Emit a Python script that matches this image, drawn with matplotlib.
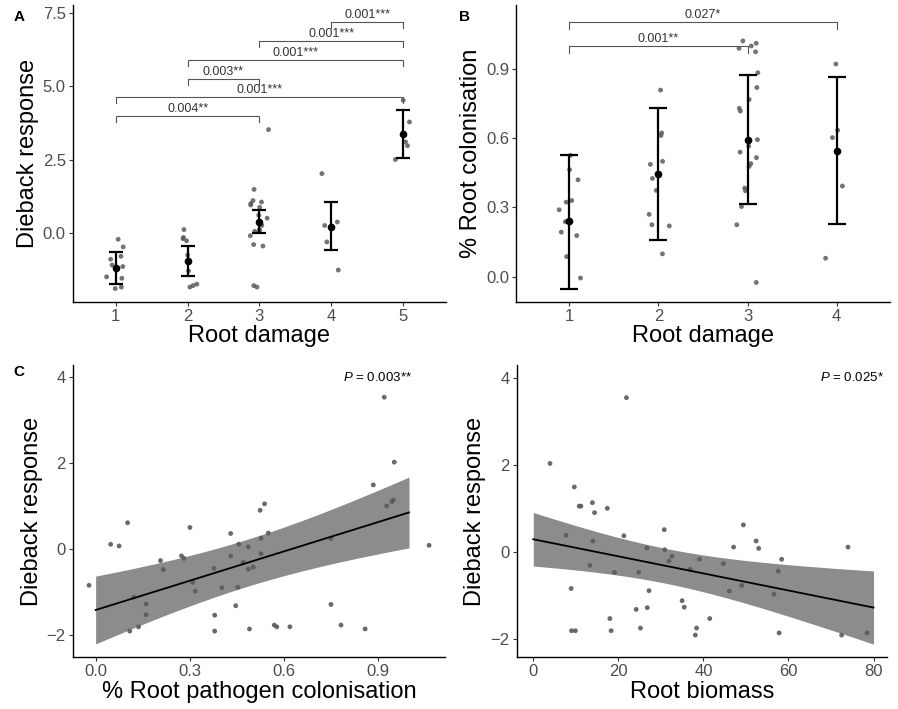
import numpy as np
import matplotlib
matplotlib.use("Agg")
import matplotlib.pyplot as plt

plt.rcParams['font.family'] = ['Liberation Sans', 'DejaVu Sans']
plt.rcParams['mathtext.fontset'] = 'custom'
plt.rcParams['mathtext.it'] = 'Liberation Sans:italic'
plt.rcParams['mathtext.rm'] = 'Liberation Sans'

# ---- panel A: dieback response by root damage class
damage_a = [1, 2, 3, 4, 5]
dieback_by_damage = [
    [-0.22, -0.48, -0.80, -0.90, -1.10, -1.15, -1.50, -1.55, -1.85, -1.90],
    [0.11, -0.16, -0.20, -0.27, -0.76, -1.30, -1.75, -1.80, -1.85],
    [3.52, 1.48, 1.10, 1.05, 1.00, 0.95, 0.87, 0.60, 0.50, 0.25, 0.10, 0.08,
     0.05, -0.10, -0.40, -0.45, -1.80, -1.85],
    [2.02, 0.37, 0.25, -0.31, -1.27],
    [4.52, 3.78, 3.10, 2.97, 2.50],
]
mean_a = [-1.19, -0.95, 0.37, 0.20, 3.38]
low_a = [-1.75, -1.48, -0.02, -0.59, 2.56]
high_a = [-0.65, -0.45, 0.77, 1.04, 4.20]
brackets_a = [(1, 3, 3.98, '0.004**'), (1, 5, 4.62, '0.001***'),
              (2, 3, 5.25, '0.003**'), (2, 5, 5.89, '0.001***'),
              (3, 5, 6.54, '0.001***'), (4, 5, 7.19, '0.001***')]

# ---- panel B: % root colonisation by root damage class
damage_b = [1, 2, 3, 4]
colon_by_damage = [
    [0.526, 0.464, 0.42, 0.323, 0.33, 0.29, 0.24, 0.238, 0.193, 0.178, 0.087, -0.006],
    [0.809, 0.612, 0.623, 0.50, 0.487, 0.447, 0.426, 0.374, 0.27, 0.22, 0.225, 0.099],
    [1.022, 1.012, 1.0, 0.99, 0.975, 0.884, 0.82, 0.768, 0.73, 0.718, 0.594,
     0.566, 0.54, 0.516, 0.49, 0.478, 0.384, 0.372, 0.304, 0.225, -0.025],
    [0.922, 0.635, 0.603, 0.393, 0.08],
]
mean_b = [0.24, 0.447, 0.594, 0.545]
low_b = [-0.055, 0.16, 0.313, 0.229]
high_b = [0.526, 0.732, 0.874, 0.864]
brackets_b = [(1, 3, 1.0, '0.001**'), (1, 4, 1.103, '0.027*')]

# ---- panel C: dieback vs % root pathogen colonisation
colon_x = [-0.021, 0.048, 0.075, 0.102, 0.122, 0.109, 0.137, 0.161, 0.161, 0.207,
           0.216, 0.274, 0.282, 0.301, 0.31, 0.318, 0.378, 0.403, 0.38, 0.38,
           0.431, 0.431, 0.457, 0.471, 0.454, 0.447, 0.487, 0.487, 0.503, 0.491,
           0.525, 0.539, 0.551, 0.528, 0.528, 0.57, 0.578, 0.62, 0.751, 0.751,
           0.783, 0.86, 0.886, 0.921, 0.953, 0.929, 0.945, 0.95, 1.064]
colon_y = [-0.845, 0.109, 0.07, 0.61, -1.12, -1.91, -1.81, -1.28, -1.53, -0.27,
           -0.48, -0.16, -0.22, 0.5, -0.78, -0.98, -0.45, -0.9, -1.54, -1.91,
           0.36, -0.16, 0.11, -0.31, -0.89, -1.32, 0.05, -0.47, -0.42, -1.86,
           0.9, 1.05, 0.37, 0.25, -0.11, -1.77, -1.81, -1.81, 0.24, -1.29,
           -1.77, -1.86, 1.49, 3.53, 2.02, 1.0, 1.1, 1.14, 0.085]
# fitted line: span, intercept, slope, band (centre, min var, curvature)
colon_fit = dict(span=(0.0, 1.0), icpt=-1.42, slope=2.27, xc=0.48, a=0.30, b=1.4)

# ---- panel D: dieback vs root biomass
biomass_x = [3.93, 21.9, 9.65, 10.8, 11.2, 13.9, 14.4, 17.4, 7.7, 14.0, 21.3, 13.3,
             19.1, 8.9, 9.0, 9.9, 18.0, 18.3, 24.2, 24.8, 25.2, 26.7, 27.2, 26.8,
             30.8, 30.9, 32.6, 31.9, 36.9, 39.1, 35.0, 35.5, 38.4, 38.1, 41.5,
             44.7, 46.1, 47.1, 49.0, 49.4, 52.4, 53.0, 56.6, 57.6, 58.4, 57.8,
             72.5, 74.0, 78.5]
biomass_y = [2.03, 3.54, 1.49, 1.05, 1.05, 1.13, 0.9, 1.0, 0.38, 0.25, 0.37, -0.31,
             -0.47, -0.84, -1.81, -1.81, -1.53, -1.81, -1.32, -0.47, -1.75, 0.09,
             -0.89, -1.28, 0.51, 0.05, -0.1, -0.21, -0.4, -0.17, -1.12, -1.27,
             -1.75, -1.91, -1.53, -0.27, -0.9, 0.11, -0.77, 0.62, 0.25, 0.08,
             -0.97, -0.44, -0.17, -1.86, -1.91, 0.11, -1.86]
biomass_fit = dict(span=(0.0, 80.0), icpt=0.29, slope=-0.0196, xc=31.0, a=0.16, b=2.27e-4)

pt_color = '#5a5a5a'
fig = plt.figure(figsize=(8.98, 7.09), dpi=100)
axA = fig.add_axes([0.081, 0.574, 0.4157, 0.419])
axB = fig.add_axes([0.5746, 0.574, 0.4165, 0.419])
axC = fig.add_axes([0.081, 0.0729, 0.4146, 0.4123])
axD = fig.add_axes([0.5754, 0.0729, 0.412, 0.4123])

rng = np.random.default_rng(7)


def style(ax):
    for s in ['top', 'right']:
        ax.spines[s].set_visible(False)
    for s in ['left', 'bottom']:
        ax.spines[s].set_linewidth(1.0)
    ax.tick_params(length=3, width=0.8, color='#333333', labelcolor='#4d4d4d',
                   labelsize=12, pad=2)


def group_panel(ax, cats, groups, means, lows, highs, capsize):
    for c, vals in zip(cats, groups):
        jit = rng.uniform(-0.13, 0.13, len(vals))
        ax.scatter(c + jit, vals, s=12, color=pt_color, alpha=0.85,
                   edgecolors='none', zorder=2)
    m = np.array(means)
    ax.errorbar(cats, m, yerr=[m - np.array(lows), np.array(highs) - m],
                fmt='o', color='black', ms=4.5, elinewidth=1.6, capsize=capsize,
                capthick=1.6, zorder=3)


def brackets(ax, items, tip, pad):
    for x1, x2, y, lab in items:
        ax.plot([x1, x1, x2, x2], [y - tip, y, y, y - tip], color='#555555', lw=0.8)
        ax.text((x1 + x2) / 2, y + pad, lab, ha='center', va='bottom',
                fontsize=9, color='#333333')


def fit_panel(ax, xs, ys, fit):
    gx = np.linspace(fit['span'][0], fit['span'][1], 100)
    gy = fit['icpt'] + fit['slope'] * gx
    half = np.sqrt(fit['a'] + fit['b'] * (gx - fit['xc']) ** 2)
    ax.fill_between(gx, gy - half, gy + half, color='#8c8c8c', lw=0, zorder=1)
    ax.plot(gx, gy, color='black', lw=1.3, zorder=3)
    ax.scatter(xs, ys, s=12, color=pt_color, alpha=0.9, edgecolors='none', zorder=2)


# A
style(axA)
group_panel(axA, damage_a, dieback_by_damage, mean_a, low_a, high_a, 4.7)
brackets(axA, brackets_a, 0.2, 0.03)
axA.set_xlim(0.4, 5.6)
axA.set_ylim(-2.36, 7.77)
axA.set_xticks(damage_a)
axA.set_yticks([0.0, 2.5, 5.0, 7.5])
axA.set_yticklabels(['0.0', '2.5', '5.0', '7.5'])
axA.set_xlabel('Root damage', fontsize=17, labelpad=1)
axA.set_ylabel('Dieback response', fontsize=17, labelpad=3)

# B
style(axB)
group_panel(axB, damage_b, colon_by_damage, mean_b, low_b, high_b, 6.5)
brackets(axB, brackets_b, 0.03, 0.004)
axB.set_xlim(0.4, 4.6)
axB.set_ylim(-0.11, 1.178)
axB.set_xticks(damage_b)
axB.set_yticks([0.0, 0.3, 0.6, 0.9])
axB.set_yticklabels(['0.0', '0.3', '0.6', '0.9'])
axB.set_xlabel('Root damage', fontsize=17, labelpad=1)
axB.set_ylabel('% Root colonisation', fontsize=17, labelpad=3)

# C
style(axC)
fit_panel(axC, colon_x, colon_y, colon_fit)
axC.set_xlim(-0.073, 1.115)
axC.set_ylim(-2.52, 4.28)
axC.set_xticks([0.0, 0.3, 0.6, 0.9])
axC.set_xticklabels(['0.0', '0.3', '0.6', '0.9'])
axC.set_yticks([-2, 0, 2, 4])
axC.set_xlabel('% Root pathogen colonisation', fontsize=17, labelpad=1)
axC.set_ylabel('Dieback response', fontsize=17, labelpad=3)
axC.text(0.9, 4.0, r'$P$ = 0.003**', ha='center', va='center', fontsize=9.5)

# D
style(axD)
fit_panel(axD, biomass_x, biomass_y, biomass_fit)
axD.set_xlim(-3.9, 83.1)
axD.set_ylim(-2.42, 4.29)
axD.set_xticks([0, 20, 40, 60, 80])
axD.set_yticks([-2, 0, 2, 4])
axD.set_xlabel('Root biomass', fontsize=17, labelpad=1)
axD.set_ylabel('Dieback response', fontsize=17, labelpad=3)
axD.text(75, 4.0, r'$P$ = 0.025*', ha='center', va='center', fontsize=9.5)

for lab, px, py in [('A', 19, 17), ('B', 464, 17), ('C', 19, 372)]:
    fig.text(px / 898, 1 - py / 709, lab, fontsize=11, fontweight='bold',
             ha='center', va='center')

fig.savefig('out.png', dpi=100)
